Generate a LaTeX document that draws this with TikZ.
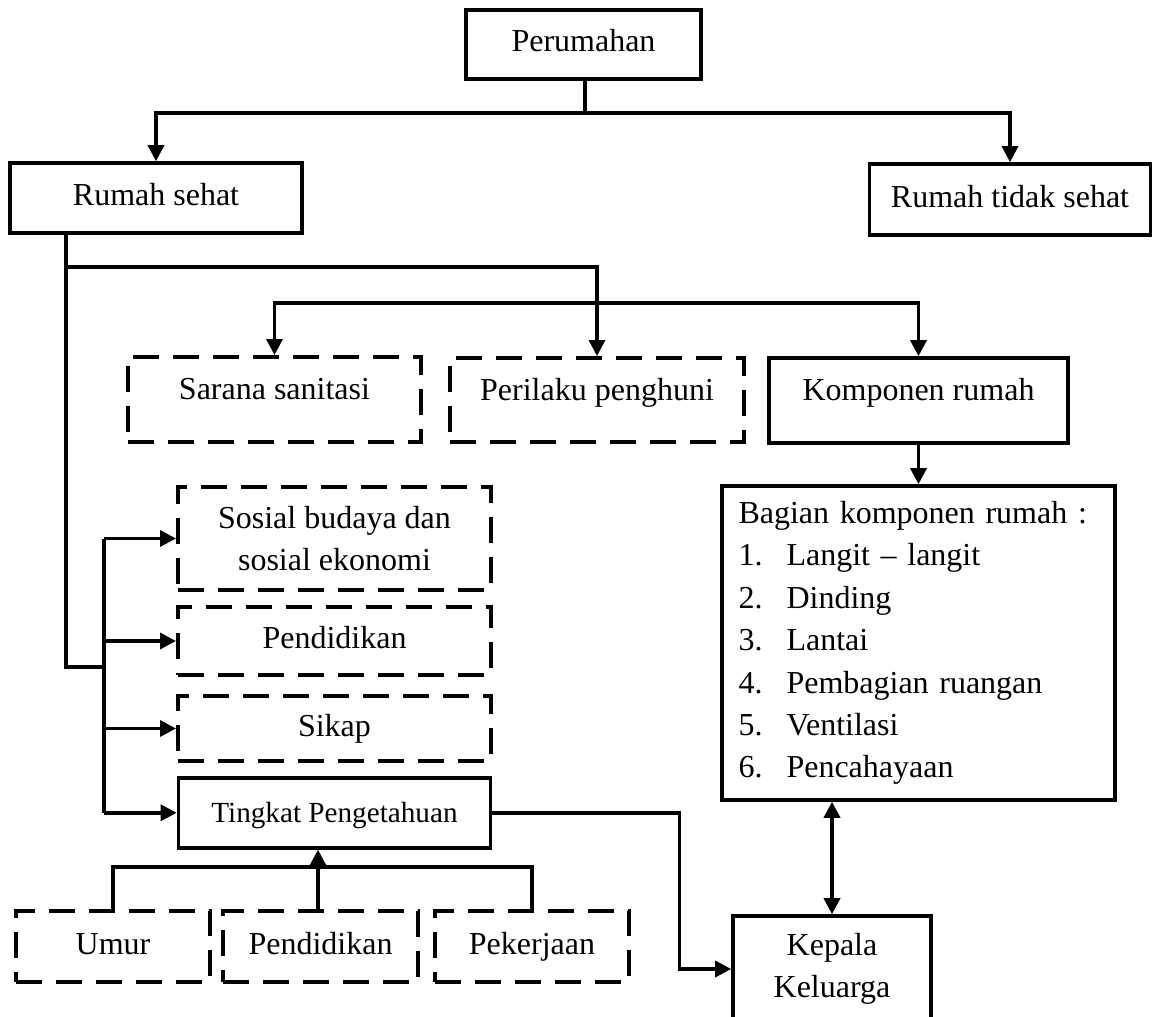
\documentclass[tikz,border=0pt]{standalone}
\usepackage{fontspec}
\setmainfont{Liberation Serif}
\usetikzlibrary{positioning,arrows.meta}

\begin{document}
\begin{tikzpicture}[%
x=0.5pt,y=-0.5pt,%
every node/.style={font=\fontsize{16}{21.2}\selectfont},%
trans/.style={-{Triangle[length=8pt,width=8pt]},line width=1.7pt},%
link/.style={line width=1.7pt},%
both/.style={{Triangle[length=8pt,width=8pt]}-{Triangle[length=8pt,width=8pt]},line width=1.8pt},%
solidbox/.style={draw,line width=1.8pt,inner sep=0pt},%
dashbox/.style={draw,line width=2pt,dash pattern=on 13pt off 7pt,inner sep=0pt},%
onetext/.style={text height=11pt,text depth=3.5pt},%
toptext/.style={text height=11pt,text depth=11pt},%
  ]
    \useasboundingbox (0,0) rectangle (1155,1016);

    \node[solidbox,onetext,minimum width=117.5pt,minimum height=34.5pt] (peru) at (583.5,44.5) {Perumahan};
    \node[solidbox,onetext,minimum width=146pt,minimum height=35pt] (sehat) at (156,198) {Rumah sehat};
    \node[solidbox,onetext,minimum width=140.5pt,minimum height=35.5pt] (tidak) at (1010,199.5) {Rumah tidak sehat};

    \node[dashbox,toptext,minimum width=146.5pt,minimum height=42.5pt] (sarana) at (274.5,399.5) {Sarana sanitasi};
    \node[dashbox,toptext,minimum width=147pt,minimum height=42pt] (perilaku) at (597,400) {Perilaku penghuni};
    \node[solidbox,toptext,minimum width=149.5pt,minimum height=42.5pt] (komp) at (918.5,400.5) {Komponen rumah};

    \node[solidbox,minimum height=157pt,text width=180pt,inner xsep=8.25pt,align=left] (bagian) at (918.5,643)
      {Bagian komponen rumah :\\
       \makebox[24pt][l]{1.}Langit – langit\\
       \makebox[24pt][l]{2.}Dinding\\
       \makebox[24pt][l]{3.}Lantai\\
       \makebox[24pt][l]{4.}Pembagian ruangan\\
       \makebox[24pt][l]{5.}Ventilasi\\
       \makebox[24pt][l]{6.}Pencahayaan};
    \node[solidbox,minimum width=99pt,minimum height=53pt,align=center] (kepala) at (832,969) {Kepala\\Keluarga};

    \node[dashbox,minimum width=156.5pt,minimum height=51.5pt,align=center] (sosial) at (334.5,538.5) {Sosial budaya dan\\sosial ekonomi};
    \node[dashbox,onetext,minimum width=156.5pt,minimum height=34pt,below=6.5pt of sosial] (pend) {Pendidikan};
    \node[dashbox,onetext,minimum width=156.5pt,minimum height=32.5pt,below=8.5pt of pend] (sikap) {Sikap};
    \node[solidbox,minimum width=156pt,minimum height=35pt,below=6.5pt of sikap,font=\fontsize{14.6}{18}\selectfont,text height=11pt,text depth=1pt] (tingkat) {Tingkat Pengetahuan};

    \node[dashbox,onetext,minimum width=97pt,minimum height=35.5pt] (umur) at (113,946.5) {Umur};
    \node[dashbox,onetext,minimum width=97.5pt,minimum height=35.5pt,right=4.5pt of umur] (pend2) {Pendidikan};
    \node[dashbox,onetext,minimum width=97pt,minimum height=35.5pt,right=6.5pt of pend2] (peker) {Pekerjaan};

    \coordinate (split) at (585,113);
    \coordinate (hub) at (66,267);
    \coordinate (mid) at (597,303);
    \coordinate (bus) at (104,667);
    \coordinate (jn) at (318,867);

    \draw[link] (peru.south -| split) -- (split);
    \draw[trans] (split) -| (sehat.north);
    \draw[trans] (split) -| (tidak.north);

    \draw[link] (sehat.south -| hub) -- (hub);
    \draw[trans] (hub) -| (perilaku.north);
    \draw[trans] (mid) -| (sarana.north);
    \draw[trans] (mid) -| (komp.north);
    \draw[trans] (komp) -- (bagian);
    \draw[both] (bagian.south -| kepala.north) -- (kepala.north);

    \draw[link] (hub) |- (bus);
    \draw[link] (bus |- sosial.west) -- (bus |- tingkat.west);
    \foreach \n in {sosial,pend,sikap,tingkat}
        \draw[trans] (bus |- \n.west) -- (\n.west);

    \draw[link] (umur.north) |- (jn) -| (peker.north);
    \draw[trans] (pend2.north -| jn) -- (tingkat.south -| jn);
    \draw[trans] (tingkat.east) -- ++(187,0) |- (kepala.west);
  \end{tikzpicture}
\end{document}
